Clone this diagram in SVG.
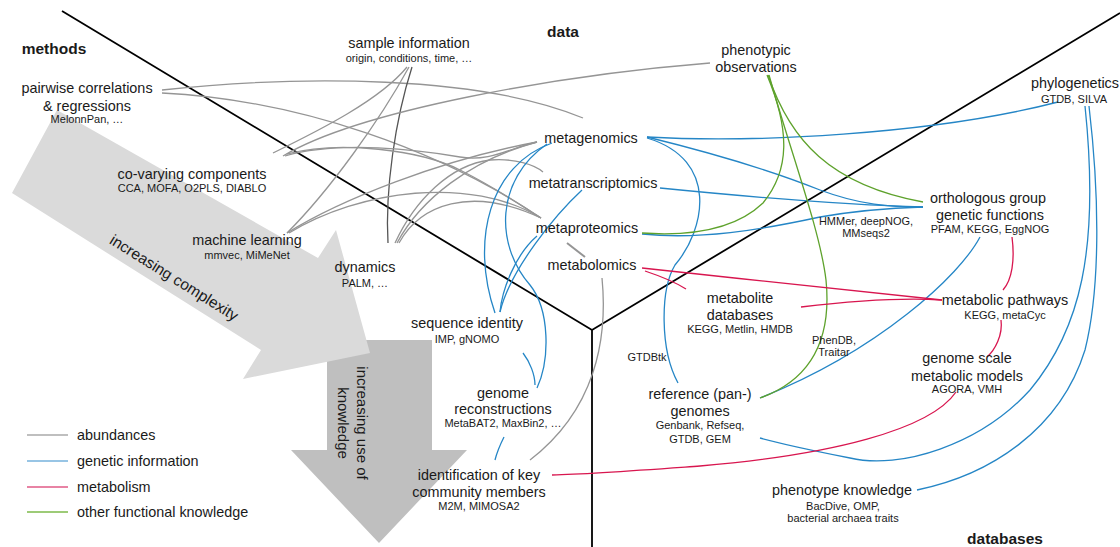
<svg xmlns="http://www.w3.org/2000/svg" width="1120" height="547" viewBox="0 0 1120 547">
<style>
text{font-family:"Liberation Sans",Arial,sans-serif;fill:#1a1a1a;text-anchor:middle}
.t{font-size:14.4px}
.s{font-size:11px}
.h{font-size:15.5px;font-weight:bold}
.lg{font-size:14.4px;text-anchor:start}
.c{fill:none;stroke-width:1.3}
.g{stroke:#959595}
.gd{stroke:#555}
.b{stroke:#2586c6}
.r{stroke:#d8164f}
.gr{stroke:#5ea22c}
.ax{fill:none;stroke:#000;stroke-width:1.8}
</style>
<rect width="1120" height="547" fill="#fff"/>
<g id="arrows">
<polygon points="327,340 432,340 432,450 467,450 379,543 291,450 327,450" fill="#bfbfbf"/>
<polygon points="57,110 318,258 336,230 370,353 243,379 261,350 12,193" fill="#dadada"/>
<text class="t" style="font-size:15.5px" transform="translate(174,278) rotate(32)" y="5">increasing complexity</text>
<g transform="translate(352,423) rotate(90)">
<text class="t" style="font-size:15px" y="-5">increasing use of</text>
<text class="t" style="font-size:15px" y="14">knowledge</text>
</g>
</g>
<g id="axes">
<path class="ax" d="M62,11 L592,330 L1120,13 M592,330 L592,547"/>
</g>
<g id="connectors">
<path class="c g" d="M162,90 C300,75 480,75 583,118"/>
<path class="c g" d="M162,93 C300,100 440,150 541,218"/>
<path class="c g" d="M407,67 C380,100 320,130 273,153"/>
<path class="c g" d="M409,67 C380,120 330,190 287,233"/>
<path class="c gd" d="M412,67 C395,120 385,190 388,243"/>
<path class="c g" d="M710,63 C560,75 360,110 283,156"/>
<path class="c g" d="M285,156 C340,140 420,150 460,157 C490,162 510,148 537,142"/>
<path class="c g" d="M287,154 C340,140 420,150 460,170 C500,190 520,205 541,218"/>
<path class="c g" d="M287,233 C340,200 440,160 537,142"/>
<path class="c g" d="M289,233 C360,190 470,175 541,218"/>
<path class="c g" d="M397,243 C420,200 470,160 537,142"/>
<path class="c g" d="M395,243 C415,200 450,165 490,160 C515,158 535,165 543,172"/>
<path class="c g" d="M399,243 C420,205 470,185 541,218"/>
<path class="c g" d="M567,243 L585,257" style="stroke-width:2"/>
<path class="c g" d="M602,278 C608,340 595,410 530,460"/>
<path class="c b" d="M647,137 C750,143 930,135 1058,102"/>
<path class="c b" d="M647,137 C700,150 770,170 820,190 C860,205 890,207 923,207"/>
<path class="c b" d="M647,138 C720,160 705,230 675,265 C660,290 660,350 678,383"/>
<path class="c b" d="M660,188 C760,198 850,205 923,207"/>
<path class="c b" d="M642,234 C700,240 760,230 820,217 C860,210 890,208 923,207"/>
<path class="c b" d="M980,237 C960,275 880,350 760,398"/>
<path class="c b" d="M1085,106 C1100,250 1080,330 1030,390 C980,445 900,470 850,458 C810,450 785,445 760,438"/>
<path class="c b" d="M1089,106 C1100,200 1100,290 1085,350 C1060,430 990,475 917,490"/>
<path class="c b" d="M552,143 C490,165 470,240 495,313"/>
<path class="c b" d="M547,144 C495,180 495,245 530,285 C550,310 550,360 537,388"/>
<path class="c b" d="M582,190 C555,215 510,270 500,312"/>
<path class="c b" d="M537,236 C515,255 502,290 500,312"/>
<path class="c b" d="M523,353 C530,362 535,375 535,385"/>
<path class="c b" d="M504,437 C500,445 497,452 495,460"/>
<path class="c gr" d="M767,75 C790,130 790,170 763,203 C740,225 700,237 642,233"/>
<path class="c gr" d="M768,75 C790,140 830,185 923,202"/>
<path class="c gr" d="M769,75 C790,150 820,230 826,280 C832,340 810,380 760,398"/>
<path class="c r" d="M642,268 C750,280 900,295 942,300"/>
<path class="c r" d="M645,271 C660,276 675,282 686,289"/>
<path class="c r" d="M801,307 C860,300 910,298 942,300"/>
<path class="c r" d="M1012,237 C1015,260 1012,280 1003,290"/>
<path class="c r" d="M1001,320 C1003,335 995,350 987,357"/>
<path class="c r" d="M956,392 C930,430 830,455 700,466 C630,471 590,474 552,475"/>
</g>
<g id="headers">
<text class="h" x="54" y="54">methods</text>
<text class="h" x="563" y="37">data</text>
<text class="h" x="1005" y="544">databases</text>
</g>
<g id="pairwise"><text class="t" x="87" y="93">pairwise correlations</text><text class="t" x="87" y="111">&amp; regressions</text><text class="s" x="87" y="123">MelonnPan, …</text></g>
<g id="covarying"><text class="t" x="192" y="179">co-varying components</text><text class="s" x="192" y="192">CCA, MOFA, O2PLS, DIABLO</text></g>
<g id="ml"><text class="t" x="247" y="245">machine learning</text><text class="s" x="247" y="259">mmvec, MiMeNet</text></g>
<g id="dynamics"><text class="t" x="365" y="272">dynamics</text><text class="s" x="365" y="287">PALM, …</text></g>
<g id="sample"><text class="t" x="409" y="48">sample information</text><text class="s" x="409" y="62">origin, conditions, time, …</text></g>
<g id="metagenomics"><text class="t" x="591" y="143">metagenomics</text></g>
<g id="metatranscriptomics"><text class="t" x="593" y="188">metatranscriptomics</text></g>
<g id="metaproteomics"><text class="t" x="587" y="233">metaproteomics</text></g>
<g id="metabolomics"><text class="t" x="592" y="270">metabolomics</text></g>
<g id="phenotypic"><text class="t" x="756" y="55">phenotypic</text><text class="t" x="756" y="72">observations</text></g>
<g id="phylogenetics"><text class="t" x="1075" y="88">phylogenetics</text><text class="s" x="1074" y="103">GTDB, SILVA</text></g>
<g id="orthologous"><text class="t" x="988" y="203">orthologous group</text><text class="t" x="990" y="220">genetic functions</text><text class="s" x="990" y="233">PFAM, KEGG, EggNOG</text></g>
<g id="hmmer"><text class="s" x="866" y="225">HMMer, deepNOG,</text><text class="s" x="866" y="237">MMseqs2</text></g>
<g id="pathways"><text class="t" x="1005" y="305">metabolic pathways</text><text class="s" x="1005" y="319">KEGG, metaCyc</text></g>
<g id="metabolitedb"><text class="t" x="740" y="303">metabolite</text><text class="t" x="740" y="320">databases</text><text class="s" x="740" y="333">KEGG, Metlin, HMDB</text></g>
<g id="phendb"><text class="s" x="834" y="344">PhenDB,</text><text class="s" x="834" y="356">Traitar</text></g>
<g id="gtdbtk"><text class="s" x="647" y="361">GTDBtk</text></g>
<g id="gsmm"><text class="t" x="967" y="363">genome scale</text><text class="t" x="967" y="381">metabolic models</text><text class="s" x="967" y="393">AGORA, VMH</text></g>
<g id="refgenomes"><text class="t" x="700" y="399">reference (pan-)</text><text class="t" x="700" y="416">genomes</text><text class="s" x="700" y="429">Genbank, Refseq,</text><text class="s" x="700" y="443">GTDB, GEM</text></g>
<g id="phenoknow"><text class="t" x="842" y="495">phenotype knowledge</text><text class="s" x="843" y="510">BacDive, OMP,</text><text class="s" x="843" y="522">bacterial archaea traits</text></g>
<g id="seqid"><text class="t" x="467" y="328">sequence identity</text><text class="s" x="467" y="343">IMP, gNOMO</text></g>
<g id="genrec"><text class="t" x="503" y="398">genome</text><text class="t" x="503" y="414">reconstructions</text><text class="s" x="503" y="427">MetaBAT2, MaxBin2, …</text></g>
<g id="keymembers"><text class="t" x="479" y="480">identification of key</text><text class="t" x="479" y="497">community members</text><text class="s" x="479" y="510">M2M, MIMOSA2</text></g>
<g id="legend">
<line x1="27" y1="435" x2="68" y2="435" stroke="#aaa" stroke-width="1.3"/>
<line x1="27" y1="461" x2="68" y2="461" stroke="#76b2dd" stroke-width="1.3"/>
<line x1="27" y1="487" x2="68" y2="487" stroke="#e05a86" stroke-width="1.3"/>
<line x1="27" y1="512" x2="68" y2="512" stroke="#7cba4a" stroke-width="1.3"/>
<text class="lg" x="77" y="440">abundances</text>
<text class="lg" x="77" y="466">genetic information</text>
<text class="lg" x="77" y="492">metabolism</text>
<text class="lg" x="77" y="517">other functional knowledge</text>
</g>
</svg>
